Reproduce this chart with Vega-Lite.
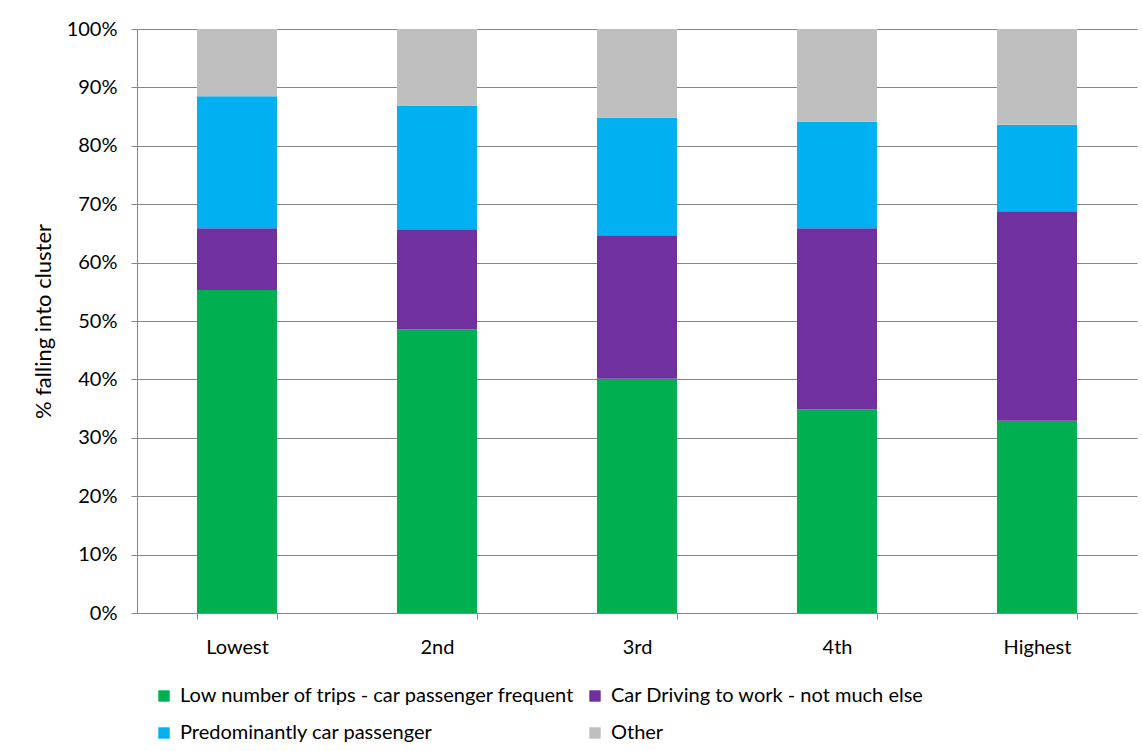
{
  "$schema": "https://vega.github.io/schema/vega-lite/v6.json",
  "width": 1000,
  "height": 584,
  "autosize": {"type": "none"},
  "padding": {"left": 137, "top": 29, "right": 5, "bottom": 138},
  "background": "white",
  "config": {
    "font": "Lato",
    "view": {"stroke": null},
    "axis": {"labelFont": "Lato", "titleFont": "Lato", "labelColor": "#000", "titleColor": "#000"}
  },
  "data": {
    "values": [
      {"quintile": "Lowest", "cluster": "Low number of trips - car passenger frequent", "k": 1, "pct": 55.3},
      {"quintile": "Lowest", "cluster": "Car Driving to work - not much else", "k": 2, "pct": 10.6},
      {"quintile": "Lowest", "cluster": "Predominantly car passenger", "k": 3, "pct": 22.6},
      {"quintile": "Lowest", "cluster": "Other", "k": 4, "pct": 11.5},
      {"quintile": "2nd", "cluster": "Low number of trips - car passenger frequent", "k": 1, "pct": 48.6},
      {"quintile": "2nd", "cluster": "Car Driving to work - not much else", "k": 2, "pct": 17.1},
      {"quintile": "2nd", "cluster": "Predominantly car passenger", "k": 3, "pct": 21.1},
      {"quintile": "2nd", "cluster": "Other", "k": 4, "pct": 13.2},
      {"quintile": "3rd", "cluster": "Low number of trips - car passenger frequent", "k": 1, "pct": 40.1},
      {"quintile": "3rd", "cluster": "Car Driving to work - not much else", "k": 2, "pct": 24.6},
      {"quintile": "3rd", "cluster": "Predominantly car passenger", "k": 3, "pct": 20.1},
      {"quintile": "3rd", "cluster": "Other", "k": 4, "pct": 15.2},
      {"quintile": "4th", "cluster": "Low number of trips - car passenger frequent", "k": 1, "pct": 34.9},
      {"quintile": "4th", "cluster": "Car Driving to work - not much else", "k": 2, "pct": 31.0},
      {"quintile": "4th", "cluster": "Predominantly car passenger", "k": 3, "pct": 18.2},
      {"quintile": "4th", "cluster": "Other", "k": 4, "pct": 15.9},
      {"quintile": "Highest", "cluster": "Low number of trips - car passenger frequent", "k": 1, "pct": 32.9},
      {"quintile": "Highest", "cluster": "Car Driving to work - not much else", "k": 2, "pct": 35.9},
      {"quintile": "Highest", "cluster": "Predominantly car passenger", "k": 3, "pct": 14.8},
      {"quintile": "Highest", "cluster": "Other", "k": 4, "pct": 16.4}
    ]
  },
  "mark": {"type": "bar"},
  "encoding": {
    "x": {
      "field": "quintile",
      "type": "nominal",
      "sort": ["Lowest", "2nd", "3rd", "4th", "Highest"],
      "scale": {"paddingInner": 0.6, "paddingOuter": 0.3},
      "axis": {
        "title": null,
        "labelAngle": 0,
        "labelFontSize": 20,
        "labelPadding": 18,
        "tickBand": "extent",
        "tickSize": 6,
        "tickColor": "#868686",
        "domainColor": "#868686",
        "grid": false
      }
    },
    "y": {
      "field": "pct",
      "type": "quantitative",
      "stack": "zero",
      "scale": {"domain": [0, 100], "nice": false},
      "axis": {
        "title": "% falling into cluster",
        "titleFontSize": 22,
        "titleFontWeight": "normal",
        "titleX": -94,
        "titleY": 292,
        "titleAlign": "center",
        "titleBaseline": "middle",
        "values": [0, 10, 20, 30, 40, 50, 60, 70, 80, 90, 100],
        "labelExpr": "datum.value + '%'",
        "labelFontSize": 20,
        "labelPadding": 14,
        "tickSize": 6,
        "tickColor": "#868686",
        "domainColor": "#868686",
        "gridColor": "#868686",
        "gridWidth": 1
      }
    },
    "color": {
      "field": "cluster",
      "type": "nominal",
      "scale": {
        "domain": ["Low number of trips - car passenger frequent", "Car Driving to work - not much else", "Predominantly car passenger", "Other"],
        "range": ["#00B050", "#7030A0", "#00B0F0", "#BFBFBF"]
      },
      "legend": {
        "title": null,
        "orient": "none",
        "legendX": 17,
        "legendY": 657,
        "columns": 2,
        "direction": "horizontal",
        "columnPadding": 9,
        "rowPadding": 17,
        "symbolType": "square",
        "symbolSize": 130,
        "symbolStrokeWidth": 0,
        "symbolOffset": 0,
        "labelFontSize": 20,
        "labelLimit": 600,
        "labelOffset": 6,
        "padding": 0
      }
    },
    "order": {"field": "k", "type": "quantitative"}
  }
}
